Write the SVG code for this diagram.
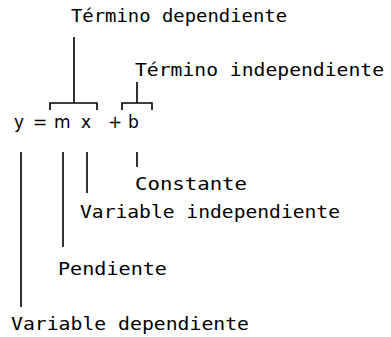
<svg xmlns="http://www.w3.org/2000/svg" width="391" height="337" viewBox="0 0 391 337">
<style>
text{font-family:"DejaVu Sans Mono","Liberation Mono",monospace;font-size:18px;fill:#000}
.eq{font-family:"DejaVu Sans","Liberation Sans",sans-serif;font-size:17px}
.c{stroke:#000;stroke-width:1.6;fill:none}
</style>
<rect width="391" height="337" fill="#fff"/>
<g id="equation"><text class="eq" x="14 33 54 81 108 128" y="128">y=mx+b</text></g>
<g id="termino-dependiente"><text x="71" y="22" textLength="216" lengthAdjust="spacingAndGlyphs">Término dependiente</text></g>
<g id="termino-independiente"><text x="135" y="76" textLength="249" lengthAdjust="spacingAndGlyphs">Término independiente</text></g>
<g id="constante"><text x="135" y="190" textLength="112" lengthAdjust="spacingAndGlyphs">Constante</text></g>
<g id="variable-independiente"><text x="80" y="218" textLength="260" lengthAdjust="spacingAndGlyphs">Variable independiente</text></g>
<g id="pendiente"><text x="58" y="275" textLength="109" lengthAdjust="spacingAndGlyphs">Pendiente</text></g>
<g id="variable-dependiente"><text x="11" y="330" textLength="238" lengthAdjust="spacingAndGlyphs">Variable dependiente</text></g>
<g id="connectors">
<path class="c" d="M74 37V103M50 110V103H97V110"/>
<path class="c" d="M137 82V103M122 110V103H152V110"/>
<path class="c" d="M21 152V307M63 152V247M87 152V193M137 152V167"/>
</g>
</svg>
